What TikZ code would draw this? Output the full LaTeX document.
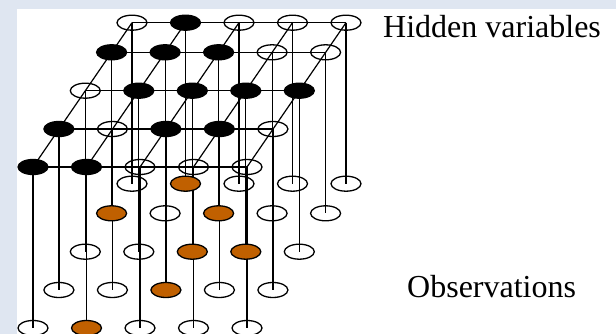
\documentclass[tikz,border=0pt]{standalone}
\usepackage{fontspec}
\setmainfont{Liberation Serif}
\usepackage{tikz}
\usetikzlibrary{shapes.geometric,backgrounds}

\definecolor{pagebg}{RGB}{223,230,241}
\definecolor{obsorange}{RGB}{192,96,0}

\tikzset{
  var/.style={ellipse, draw=black, line width=1.3pt, minimum width=30pt, minimum height=15pt, inner sep=0pt},
  hid0/.style={var},
  hid1/.style={var, fill=black},
  obs0/.style={var},
  obs1/.style={var, fill=obsorange},
  link/.style={line width=1.2pt},
  lbl/.style={font=\fontsize{32}{38}\selectfont, inner sep=0pt},
}

\begin{document}
\begin{tikzpicture}[x=1pt,y=-1pt]
    \useasboundingbox (0,0) rectangle (616,334);
    % hidden grid (top) and observations (161pt lower)
    \foreach \r/\y/\xo/\hp/\op in {
      0/22.7/132/{0,1,0,0,0}/{0,1,0,0,0},
      1/52.3/111.6/{1,1,1,0,0}/{1,0,1,0,0},
      2/90.7/85.3/{0,1,1,1,1}/{0,0,1,1,0},
      3/129/58.9/{1,0,1,1,0}/{0,0,1,0,0},
      4/167/33/{1,1,0,0,0}/{0,1,0,0,0}} {
      \foreach \s [count=\c from 0] in \hp
        \node[hid\s] (h-\r-\c) at (\xo+53.5*\c,\y) {};
      \foreach \s [count=\c from 0] in \op
        \node[obs\s] (o-\r-\c) at (\xo+53.5*\c,\y+161) {};
    }
    \node[lbl, anchor=base west] (hidtext) at (383,37.3) {Hidden variables};
    \node[lbl, anchor=base west] (obstext) at (407,297.5) {Observations};
    \begin{scope}[on background layer]
      \fill[pagebg] (0,0) rectangle (616,334);
      \fill[white] (17,8.7) rectangle (616,334);
      \foreach \r in {0,...,4}
        \draw[link] (h-\r-0.center) -- (h-\r-4.center);
      \foreach \c in {0,...,4}
        \draw[link] (h-0-\c.center) -- (h-4-\c.center);
      \foreach \r in {0,...,4}
        \foreach \c in {0,...,4}
          \draw[link] (h-\r-\c.center) -- (o-\r-\c.center);
    \end{scope}
\end{tikzpicture}
\end{document}
